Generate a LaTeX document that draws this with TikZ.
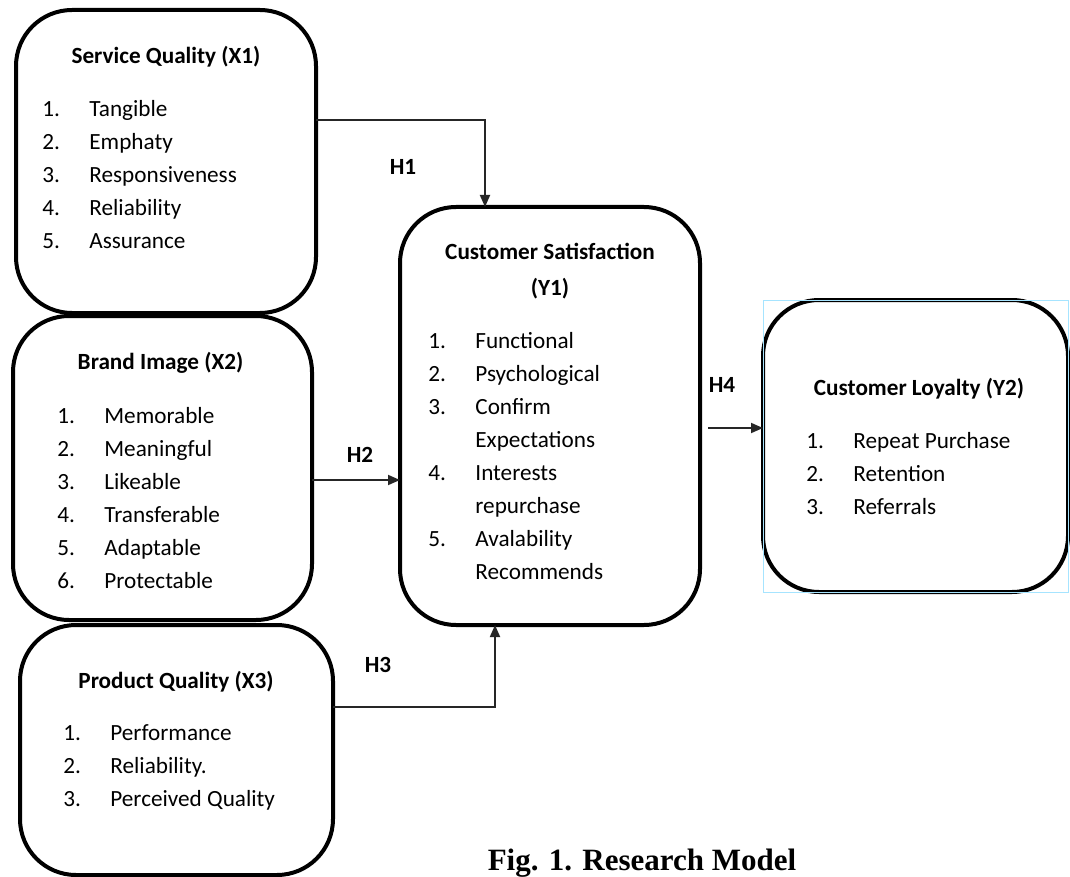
\documentclass[tikz,border=0pt]{standalone}
\usepackage{fontspec}
\setmainfont{Carlito}
\newfontfamily\captionserif{Liberation Serif}
\usetikzlibrary{arrows.meta}

\tikzset{
  varbox/.style={draw, line width=2pt, rounded corners=28pt, inner sep=0pt, outer sep=0pt},
  selframe/.style={draw=blue!30!cyan!35, line width=0.5pt},
  headtext/.style={font=\fontsize{11.6pt}{14pt}\selectfont\bfseries, anchor=base, inner sep=0pt},
  itemtext/.style={font=\fontsize{11.6pt}{14pt}\selectfont, anchor=base west, inner sep=0pt},
  hyptext/.style={font=\fontsize{11.6pt}{14pt}\selectfont\bfseries, anchor=base, inner sep=0pt},
  link/.style={line width=0.9pt, black!85, -{Triangle[length=6pt,width=5pt]}},
  captext/.style={font=\captionserif\fontsize{15.5pt}{18pt}\selectfont\bfseries, anchor=base, inner sep=0pt}
}

% numbered list inside a box: name, x of numbers, baseline of first line, items
\newcommand\itemlist[4]{%
  \foreach \num/\txt [count=\k from 0] in {#4}
  {
    \node[itemtext] (#1-n\k) at (#2, #3+\k*33) {\num};
    \node[itemtext] (#1-t\k) at (#2+47, #3+\k*33) {\txt};
  }
}

\begin{document}
\begin{tikzpicture}[x=0.5pt,y=-0.5pt]
  \useasboundingbox (0,0) rectangle (1070,877);
  %
  % variable boxes
  \node[varbox, minimum width=150pt, minimum height=151.5pt] (sq) at (166,161.5) {};
  \node[varbox, minimum width=149.5pt, minimum height=152pt] (bi) at (162.5,468) {};
  \node[varbox, minimum width=156.5pt, minimum height=125pt] (pq) at (176.5,750) {};
  \node[varbox, minimum width=150pt, minimum height=209pt] (cs) at (550,416) {};
  \node[varbox, minimum width=152.5pt, minimum height=146pt] (cl) at (915.5,446) {};
  \draw[selframe] (cl.north west) rectangle (cl.south east);  % selection frame
  %
  % headings
  \node[headtext] (sq-head) at (166,64) {Service Quality (X1)};
  \node[headtext] (bi-head) at (160.5,369) {Brand Image (X2)};
  \node[headtext] (pq-head) at (176,688) {Product Quality (X3)};
  \node[headtext] (cs-head) at (550,260) {Customer Satisfaction};
  \node[headtext] (cs-head2) at (550,295) {(Y1)};
  \node[headtext] (cl-head) at (919,395) {Customer Loyalty (Y2)};
  %
  % indicators
  \itemlist{sq}{42}{117}{1./Tangible, 2./Emphaty, 3./Responsiveness, 4./Reliability, 5./Assurance}
  \itemlist{bi}{57}{423}{1./Memorable, 2./Meaningful, 3./Likeable, 4./Transferable, 5./Adaptable, 6./Protectable}
  \itemlist{pq}{63}{740}{1./Performance, 2./Reliability., 3./Perceived Quality}
  \itemlist{cs}{428}{348}{1./Functional, 2./Psychological, 3./Confirm, /Expectations,
                          4./Interests, /repurchase, 5./Avalability, /Recommends}
  \itemlist{cl}{806}{448}{1./Repeat Purchase, 2./Retention, 3./Referrals}
  %
  % hypotheses
  \coordinate (h1turn) at (485,120);
  \coordinate (h2lvl) at (0,480);
  \coordinate (h3turn) at (495,707);
  \coordinate (h4start) at (708,428);
  \draw[link] (h1turn -| sq.east) -- (h1turn) -- (h1turn |- cs.north);
  \draw[link] (h2lvl -| bi.east) -- (h2lvl -| cs.west);
  \draw[link] (h3turn -| pq.east) -- (h3turn) -- (h3turn |- cs.south);
  \draw[link] (h4start) -- (h4start -| cl.west);
  \node[hyptext] (h1) at (403,175) {H1};
  \node[hyptext] (h2) at (360,462) {H2};
  \node[hyptext] (h3) at (378,672) {H3};
  \node[hyptext] (h4) at (722,392) {H4};
  %
  \node[captext] (fig-cap) at (642,870) {Fig. 1. Research Model};
\end{tikzpicture}
\end{document}
